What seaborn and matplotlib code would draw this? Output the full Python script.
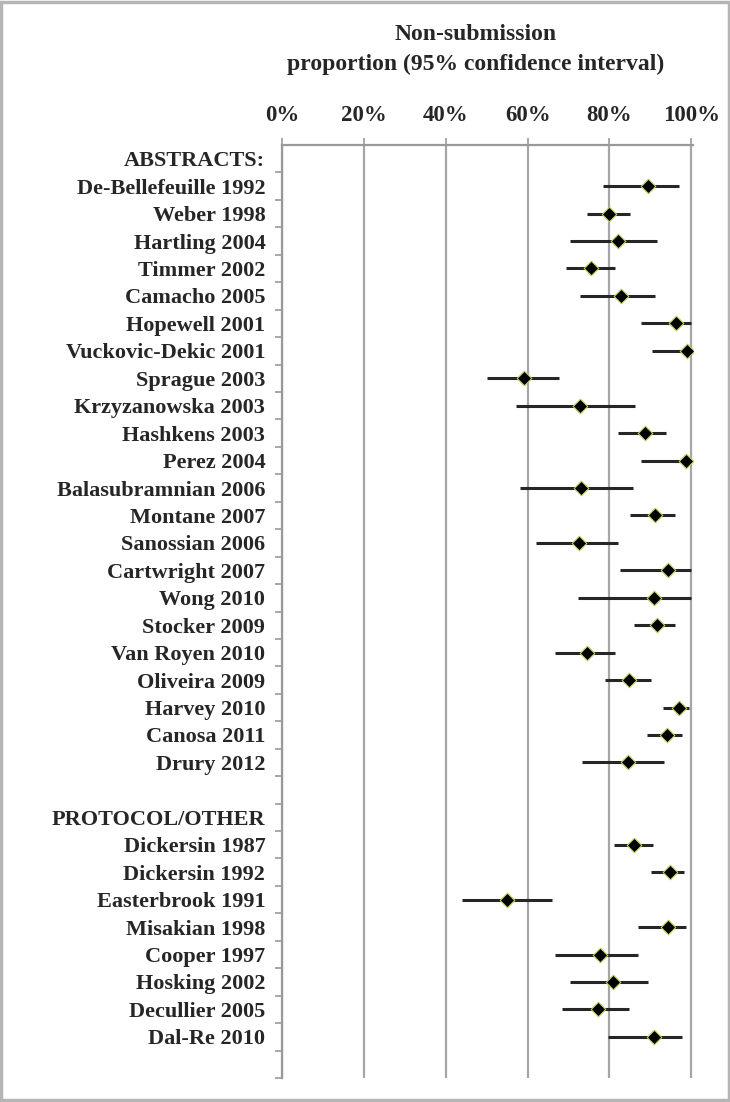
import numpy as np
import pandas as pd
import matplotlib
matplotlib.use("Agg")
import matplotlib.pyplot as plt
import seaborn as sns
from matplotlib.patches import Rectangle

# --- data ---
abstract_studies = [
    "De-Bellefeuille 1992", "Weber 1998", "Hartling 2004", "Timmer 2002",
    "Camacho 2005", "Hopewell 2001", "Vuckovic-Dekic 2001", "Sprague 2003",
    "Krzyzanowska 2003", "Hashkens 2003", "Perez 2004", "Balasubramnian 2006",
    "Montane 2007", "Sanossian 2006", "Cartwright 2007", "Wong 2010",
    "Stocker 2009", "Van Royen 2010", "Oliveira 2009", "Harvey 2010",
    "Canosa 2011", "Drury 2012",
]
abstract_est = [89.3, 80.0, 82.2, 75.5, 82.9, 96.2, 99.0, 59.1, 72.8, 88.6, 98.6,
                73.0, 91.2, 72.6, 94.4, 90.9, 91.7, 74.4, 84.8, 97.0, 94.0, 84.6]
abstract_lo = [78.3, 74.6, 70.4, 69.4, 72.9, 87.8, 90.3, 50.1, 57.1, 82.0, 87.6,
               58.2, 85.1, 62.0, 82.5, 72.4, 85.9, 66.8, 78.8, 93.1, 89.2, 73.4]
abstract_hi = [96.9, 85.1, 91.7, 81.3, 91.0, 100.0, 99.6, 67.6, 86.2, 93.9, 98.9,
               85.7, 96.1, 82.1, 100.0, 99.8, 96.0, 81.4, 90.2, 99.4, 97.6, 93.3]

protocol_studies = [
    "Dickersin 1987", "Dickersin 1992", "Easterbrook 1991", "Misakian 1998",
    "Cooper 1997", "Hosking 2002", "Decullier 2005", "Dal-Re 2010",
]
protocol_est = [86.0, 94.9, 54.9, 94.2, 77.7, 80.8, 77.2, 90.8]
protocol_lo = [81.0, 90.2, 43.9, 86.9, 66.8, 70.3, 68.5, 79.7]
protocol_hi = [90.6, 98.1, 65.9, 98.7, 86.9, 89.4, 84.8, 97.8]

row_labels = (["ABSTRACTS:"] + abstract_studies + ["", "PROTOCOL/OTHER"]
              + protocol_studies + [""])

# build table with row positions
df = pd.DataFrame({
    "study": abstract_studies + protocol_studies,
    "est": abstract_est + protocol_est,
    "lo": abstract_lo + protocol_lo,
    "hi": abstract_hi + protocol_hi,
})
df["row"] = df["study"].map({lab: i for i, lab in enumerate(row_labels) if lab})

sns.set_style("white")
plt.rcParams["font.family"] = ["Liberation Serif", "DejaVu Serif"]
plt.rcParams["font.weight"] = "bold"

fig = plt.figure(figsize=(7.3, 11.02), dpi=100)
ax = fig.add_axes([282 / 730, 1 - 1078 / 1102, 411 / 730, 933 / 1102])

ax.grid(axis="x", color="#a6a6a6", lw=1.6, zorder=0)
ax.set_axisbelow(True)
ax.hlines(df["row"], df["lo"], df["hi"], color="#262626", lw=2.2, zorder=3)
sns.scatterplot(data=df, x="est", y="row", marker="D", color="black",
                edgecolor="#bccb5c", linewidth=0.8, s=55, zorder=4, ax=ax)

ax.set_xlim(0, 100.4)
ax.set_ylim(len(row_labels) - 0.5, -0.5)
ax.set_xticks([0, 20, 40, 60, 80, 100])
ax.set_xticklabels(["0%", "20%", "40%", "60%", "80%", "100%"], fontsize=16.5,
                   fontweight="bold")
ax.xaxis.tick_top()
ax.tick_params(axis="x", which="major", length=5, width=1.2, color="#999999",
               pad=9, direction="out")

ax.set_yticks(range(len(row_labels)))
ax.set_yticklabels(row_labels, fontsize=16, fontweight="bold")
ax.set_yticks(np.arange(0.5, len(row_labels), 1), minor=True)
ax.tick_params(axis="y", which="major", length=0, pad=12)
ax.tick_params(axis="y", which="minor", length=5, width=1.2, color="#999999",
               left=True)
ax.set_xlabel("")
ax.set_ylabel("")

for side in ["right", "bottom"]:
    ax.spines[side].set_visible(False)
for side in ["left", "top"]:
    ax.spines[side].set_color("#999999")
    ax.spines[side].set_linewidth(1.6)

fig.text(476 / 730, 1 - 35 / 1102, "Non-submission", ha="center", va="center",
         fontsize=17, fontweight="bold")
fig.text(476 / 730, 1 - 64 / 1102, "proportion (95% confidence interval)",
         ha="center", va="center", fontsize=17, fontweight="bold")

fig.patches.append(Rectangle((0.002, 0.002), 0.996, 0.996, transform=fig.transFigure,
                             fill=False, edgecolor="#b5b5b5", lw=2.5))

fig.savefig("out.png", dpi=100)
